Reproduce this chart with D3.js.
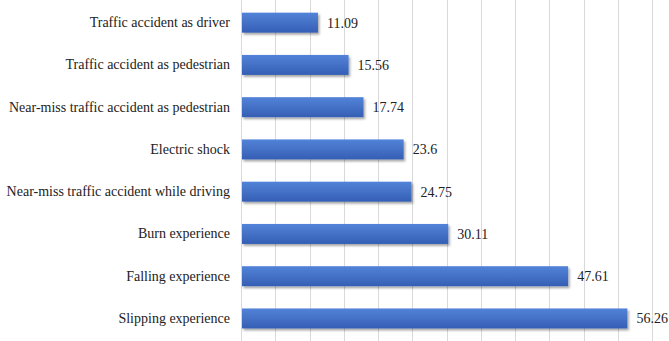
<!DOCTYPE html>
<html lang="en">
<head>
<meta charset="UTF-8">
<script src="https://d3js.org/d3.v7.min.js"></script>
<style>
  body { margin: 0; background: #fff; }
  svg text { font-family: "Times New Roman", "Liberation Serif", Tinos, serif; fill: #222; }
</style>
</head>
<body>
<svg id="chart"></svg>
<script>

const categories = [
    "Traffic accident as driver",
    "Traffic accident as pedestrian",
    "Near-miss traffic accident as pedestrian",
    "Electric shock",
    "Near-miss traffic accident while driving",
    "Burn experience",
    "Falling experience",
    "Slipping experience"
]
const values = [11.09, 15.56, 17.74, 23.6, 24.75, 30.11, 47.61, 56.26]
const valueLabels = ["11.09", "15.56", "17.74", "23.6", "24.75", "30.11", "47.61", "56.26"]
const gridTicks = [0, 5, 10, 15, 20, 25, 30, 35, 40, 45, 50, 55, 60]

const W = 669, H = 341
const left = 242, right = 653
const serif = '"Times New Roman", "Liberation Serif", Tinos, serif'

let x = d3.scaleLinear()
    .domain([0, 60])
    .range([left, right])

let y = d3.scaleBand()
    .domain(categories)
    .range([1.5, 339.6])
    .paddingInner(0.527)
    .paddingOuter(0.264)

let svg = d3.select("#chart")
    .attr("width", W)
    .attr("height", H)

let defs = svg.append("defs")
let grad = defs.append("linearGradient")
    .attr("id", "barGrad")
    .attr("x1", 0).attr("y1", 0).attr("x2", 0).attr("y2", 1)
grad.append("stop").attr("offset", "0%").attr("stop-color", "#5283d8")
grad.append("stop").attr("offset", "50%").attr("stop-color", "#4471c6")
grad.append("stop").attr("offset", "100%").attr("stop-color", "#345fb5")

let shadow = defs.append("filter")
    .attr("id", "shadow")
    .attr("x", "-5%").attr("y", "-20%")
    .attr("width", "115%").attr("height", "160%")
shadow.append("feDropShadow")
    .attr("dx", 1.5).attr("dy", 2)
    .attr("stdDeviation", 1.3)
    .attr("flood-color", "#000")
    .attr("flood-opacity", 0.35)

// vertical gridlines
svg.append("g")
    .attr("class", "grid")
  .selectAll("line")
  .data(gridTicks)
  .join("line")
    .attr("x1", d => Math.round(x(d)) - 0.5)
    .attr("x2", d => Math.round(x(d)) - 0.5)
    .attr("y1", 0)
    .attr("y2", H)
    .attr("stroke", "#d9d9d9")
    .attr("stroke-width", 1)

// bars
svg.append("g")
  .selectAll("rect")
  .data(values)
  .join("rect")
    .attr("x", x(0))
    .attr("y", (d, i) => y(categories[i]))
    .attr("width", d => x(d) - x(0))
    .attr("height", y.bandwidth())
    .attr("fill", "url(#barGrad)")
    .attr("filter", "url(#shadow)")

// value labels
svg.append("g")
  .selectAll("text")
  .data(values)
  .join("text")
    .attr("x", d => x(d) + 9)
    .attr("y", (d, i) => y(categories[i]) + y.bandwidth() / 2)
    .attr("dy", "0.35em")
    .style("font-family", serif)
    .style("font-size", "14px")
    .text((d, i) => valueLabels[i])

// category labels
let yAxis = d3.axisLeft(y).tickSize(0).tickPadding(12)
svg.append("g")
    .attr("transform", `translate(${left},0)`)
    .call(yAxis)
    .call(g => g.select(".domain").remove())
    .call(g => g.selectAll(".tick text")
        .style("font-size", "14px")
        .style("font-family", serif)
        .attr("fill", "#222"))

</script>
</body>
</html>
